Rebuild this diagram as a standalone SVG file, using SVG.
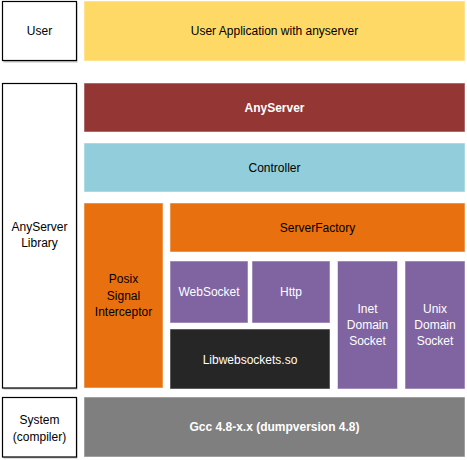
<svg xmlns="http://www.w3.org/2000/svg" width="467" height="460" viewBox="0 0 467 460">
<style>
text{font-family:"Liberation Sans","Open Sans",sans-serif;font-size:12px;text-anchor:middle;dominant-baseline:central}
.lbl{fill:#fff;stroke:#000;stroke-width:1.2}
.shadow{fill:#bfbfbf}
.blk{stroke:#ffffff;stroke-opacity:0.5;stroke-width:1}
.w{fill:#fff}
.b{fill:#000}
.bold{font-weight:bold}
</style>
<rect width="467" height="460" fill="#fff"/>
<g id="user">
<rect class="shadow" x="3.5" y="2.5" width="74" height="60"/>
<rect class="lbl" x="2.5" y="1.5" width="74" height="59"/>
<text class="b" x="39.5" y="31">User</text>
</g>
<g id="anyserver-library">
<rect class="shadow" x="3.5" y="84.5" width="74" height="305"/>
<rect class="lbl" x="2.5" y="83.5" width="74" height="304.5"/>
<text class="b" x="39.5" y="227">AnyServer</text>
<text class="b" x="39.5" y="243">Library</text>
</g>
<g id="system">
<rect class="shadow" x="3.5" y="398.5" width="74" height="60"/>
<rect class="lbl" x="2.5" y="397.5" width="74" height="59.5"/>
<text class="b" x="39.5" y="420">System</text>
<text class="b" x="39.5" y="437">(compiler)</text>
</g>
<g id="user-app">
<rect class="blk" x="84" y="1" width="381" height="60" fill="#FFD966"/>
<text class="b" x="274.5" y="31">User Application with anyserver</text>
</g>
<g id="anyserver">
<rect class="blk" x="84" y="83" width="381" height="49" fill="#943634"/>
<text class="w bold" x="274.5" y="107.5">AnyServer</text>
</g>
<g id="controller">
<rect class="blk" x="84" y="143" width="381" height="49" fill="#92CDDC"/>
<text class="b" x="274.5" y="167.5">Controller</text>
</g>
<g id="posix">
<rect class="blk" x="84" y="203" width="79" height="185" fill="#E8700E"/>
<text class="b" x="123.5" y="279">Posix</text>
<text class="b" x="123.5" y="295.5">Signal</text>
<text class="b" x="123.5" y="312">Interceptor</text>
</g>
<g id="serverfactory">
<rect class="blk" x="170" y="203" width="295" height="49" fill="#E8700E"/>
<text class="b" x="317.5" y="228">ServerFactory</text>
</g>
<g id="websocket">
<rect class="blk" x="170" y="261" width="78" height="62" fill="#8064A2"/>
<text class="w" x="209" y="292">WebSocket</text>
</g>
<g id="http">
<rect class="blk" x="252" y="261" width="78" height="62" fill="#8064A2"/>
<text class="w" x="291" y="292">Http</text>
</g>
<g id="libwebsockets">
<rect class="blk" x="170" y="329" width="160" height="60" fill="#262626"/>
<text class="w" x="250" y="360">Libwebsockets.so</text>
</g>
<g id="inet">
<rect class="blk" x="337.5" y="261" width="60" height="128" fill="#8064A2"/>
<text class="w" x="367.5" y="309">Inet</text>
<text class="w" x="367.5" y="325">Domain</text>
<text class="w" x="367.5" y="341">Socket</text>
</g>
<g id="unix">
<rect class="blk" x="405" y="261" width="60" height="128" fill="#8064A2"/>
<text class="w" x="435" y="309">Unix</text>
<text class="w" x="435" y="325">Domain</text>
<text class="w" x="435" y="341">Socket</text>
</g>
<g id="gcc">
<rect class="blk" x="84" y="397" width="381" height="60" fill="#7F7F7F"/>
<text class="w bold" x="274.5" y="427">Gcc 4.8-x.x (dumpversion 4.8)</text>
</g>
<g id="connectors"></g>
</svg>
